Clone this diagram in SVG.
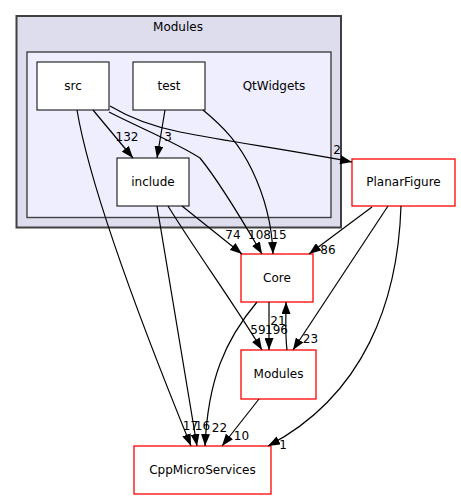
<svg xmlns="http://www.w3.org/2000/svg" width="461" height="500" viewBox="0 0 461 500">
<style>
text{font-family:"DejaVu Sans",Verdana,sans-serif;font-size:12px;fill:#000;text-anchor:middle}
.lbl{font-size:12px}
.n{fill:#fff;stroke:#000;stroke-width:1}
.r{fill:#fff;stroke:#ff0000;stroke-width:1.3}
.e{fill:none;stroke:#000;stroke-width:1.2;marker-end:url(#a)}
</style>
<defs>
<marker id="a" markerWidth="12" markerHeight="9" refX="12" refY="4.5" orient="auto" markerUnits="userSpaceOnUse">
<path d="M0,0 L12,4.5 L0,9 z" fill="#000"/>
</marker>
</defs>
<rect width="461" height="500" fill="#fff"/>
<g id="cluster_modules">
<rect x="16.5" y="16" width="324.5" height="211.5" fill="#ddddee" stroke="#404040" stroke-width="2"/>
<text x="178" y="31">Modules</text>
</g>
<g id="cluster_qtwidgets">
<rect x="27" y="52" width="304" height="165.5" fill="#eeeeff" stroke="#404040" stroke-width="1.4"/>
<text x="274" y="90">QtWidgets</text>
</g>
<g id="node_src">
<rect class="n" x="37" y="62" width="72" height="48"/>
<text x="73" y="90">src</text>
</g>
<g id="node_test">
<rect class="n" x="133" y="62" width="72" height="48"/>
<text x="169" y="90">test</text>
</g>
<g id="node_include">
<rect class="n" x="117" y="158" width="72" height="48"/>
<text x="153" y="186">include</text>
</g>
<g id="node_planarfigure">
<rect class="r" x="352" y="159" width="103" height="47"/>
<text x="403.5" y="186">PlanarFigure</text>
</g>
<g id="node_core">
<rect class="r" x="241" y="254" width="72" height="48"/>
<text x="277" y="282">Core</text>
</g>
<g id="node_modules">
<rect class="r" x="241" y="350" width="75" height="49"/>
<text x="278.5" y="378">Modules</text>
</g>
<g id="node_cppmicroservices">
<rect class="r" x="134" y="446" width="137" height="48"/>
<text x="202.5" y="474">CppMicroServices</text>
</g>
<g id="connectors">
<path class="e" d="M93,110 L133,158"/>
<path class="e" d="M165,110 L157,158"/>
<path class="e" d="M110,106 C130,118 150,126 180,132 C230,142 290,150 352,162"/>
<path class="e" d="M109,112 C140,128 175,142 200,158 C222,185 245,225 262,254"/>
<path class="e" d="M203,110 C225,128 240,145 252,170 C264,195 272,225 273,254"/>
<path class="e" d="M182,206 L242,254"/>
<path class="e" d="M372,207 L309,254"/>
<path class="e" d="M269,302 L269,350"/>
<path class="e" d="M287,350 C285,335 286,318 286,302"/>
<path class="e" d="M168,206 C195,250 235,305 262,350"/>
<path class="e" d="M388,206 L293,350"/>
<path class="e" d="M401,206 C398,300 365,395 268,446"/>
<path class="e" d="M257,302 C225,340 208,380 205,446"/>
<path class="e" d="M259,399 L222,446"/>
<path class="e" d="M77,110 C92,200 160,370 191,446"/>
<path class="e" d="M157,206 L197,446"/>
</g>
<g id="edge_labels">
<text class="lbl" x="127" y="141">132</text>
<text class="lbl" x="168" y="141">3</text>
<text class="lbl" x="337" y="154">2</text>
<text class="lbl" x="233" y="239">74</text>
<text class="lbl" x="259.5" y="239">108</text>
<text class="lbl" x="279" y="239">15</text>
<text class="lbl" x="328" y="254">86</text>
<text class="lbl" x="278" y="325">21</text>
<text class="lbl" x="258" y="334">59</text>
<text class="lbl" x="276.5" y="334">196</text>
<text class="lbl" x="310.5" y="343">23</text>
<text class="lbl" x="190.5" y="430">17</text>
<text class="lbl" x="202.5" y="430">16</text>
<text class="lbl" x="219.5" y="432">22</text>
<text class="lbl" x="241.5" y="440">10</text>
<text class="lbl" x="283" y="449">1</text>
</g>
</svg>
